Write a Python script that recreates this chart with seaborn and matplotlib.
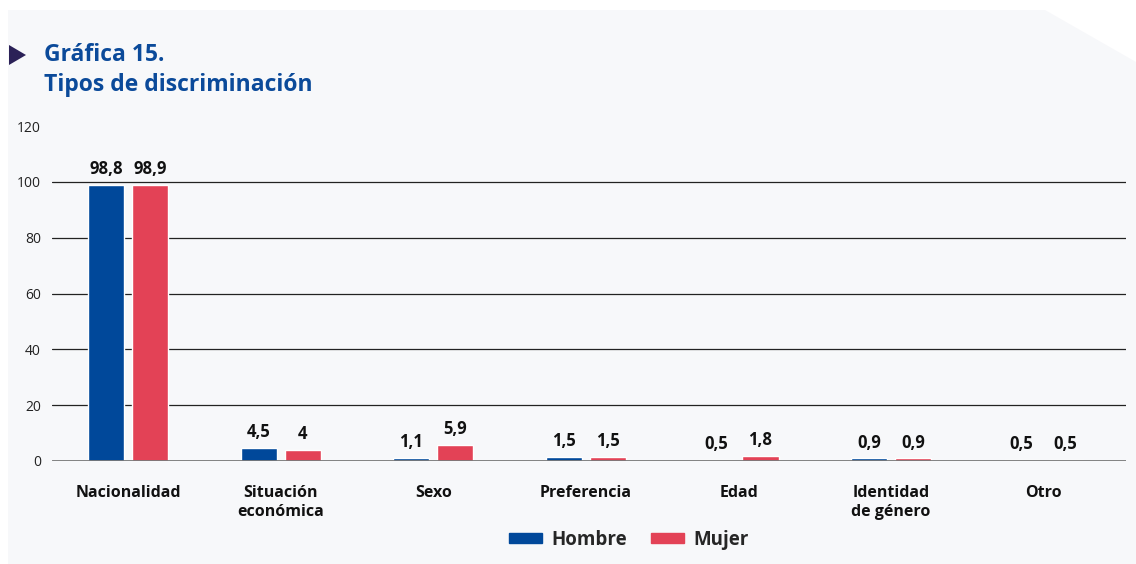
import matplotlib.pyplot as plt
import matplotlib.patches as mpatches
import seaborn as sns
import pandas as pd

# Data
categorias = ["Nacionalidad", "Situación\neconómica", "Sexo", "Preferencia",
              "Edad", "Identidad\nde género", "Otro"]
hombre = [98.8, 4.5, 1.1, 1.5, 0.5, 0.9, 0.5]
mujer = [98.9, 4.0, 5.9, 1.5, 1.8, 0.9, 0.5]
series = ["Hombre", "Mujer"]
colores = ["#00489A", "#E34256"]
y_ticks = [0, 20, 40, 60, 80, 100, 120]

df = pd.DataFrame({
    "Tipo": categorias * 2,
    "Sexo": [series[0]] * len(hombre) + [series[1]] * len(mujer),
    "Valor": hombre + mujer,
})

sns.set_theme(style="white")
plt.rcParams["font.family"] = ["Open Sans", "DejaVu Sans"]

fig = plt.figure(figsize=(11.36, 5.64), dpi=100)
fig.patch.set_facecolor("white")

# light panel with a cut top-right corner
W, H = 1136, 564
poly = [(8, 10), (1045, 10), (1136, 62), (1136, 564), (8, 564)]
panel = mpatches.Polygon([(x / W, 1 - y / H) for x, y in poly], closed=True,
                         transform=fig.transFigure, facecolor="#F7F8FA",
                         edgecolor="none", zorder=-5)
fig.patches.append(panel)

# title with triangle marker
tri = [(9, 45), (26, 55), (9, 65)]
fig.patches.append(mpatches.Polygon([(x / W, 1 - y / H) for x, y in tri], closed=True,
                                    transform=fig.transFigure, facecolor="#2B2157",
                                    edgecolor="none", zorder=-4))
fig.text(44 / W, 1 - 55 / H, "Gráfica 15.", fontsize=16.5, fontweight="bold",
         color="#0B4A9A", va="center", ha="left")
fig.text(44 / W, 1 - 85 / H, "Tipos de discriminación", fontsize=16.5, fontweight="bold",
         color="#0B4A9A", va="center", ha="left")

ax = fig.add_axes([52 / W, 1 - 461 / H, (1126 - 52) / W, (461 - 126) / H])
ax.set_facecolor("none")

sns.barplot(data=df, x="Tipo", y="Valor", hue="Sexo", palette=colores,
            width=0.577, gap=0.18, ax=ax, legend=False, saturation=1)

for cont in ax.containers:
    ax.bar_label(cont, labels=[f"{v:g}".replace(".", ",") for v in cont.datavalues],
                 padding=5, fontsize=12, fontweight="bold", color="#111111")

ax.set_ylim(0, 120)
ax.set_xlim(-0.5, 6.54)
ax.set_yticks(y_ticks)
ax.tick_params(axis="y", labelsize=10, colors="#222222", length=0, pad=8)
ax.tick_params(axis="x", labelsize=11.5, length=0, pad=17)
for lbl in ax.get_xticklabels():
    lbl.set_fontweight("bold")
    lbl.set_color("#111111")
    lbl.set_linespacing(1.25)
ax.set_xlabel("")
ax.set_ylabel("")

for y in y_ticks[1:-1]:
    ax.axhline(y, color="#222222", linewidth=0.9, zorder=0)
ax.axhline(0, color="#777777", linewidth=2, zorder=3)
for s in ax.spines.values():
    s.set_visible(False)

handles = [mpatches.Patch(color=c, label=s) for c, s in zip(colores, series)]
fig.legend(handles=handles, loc="center", bbox_to_anchor=(629 / W, 1 - 540 / H),
           ncol=2, frameon=False, handlelength=1.75, handleheight=0.45,
           columnspacing=1.3, handletextpad=0.5,
           prop={"size": 13.5, "weight": "bold"})

fig.savefig("out.png", dpi=100, facecolor=fig.get_facecolor())
